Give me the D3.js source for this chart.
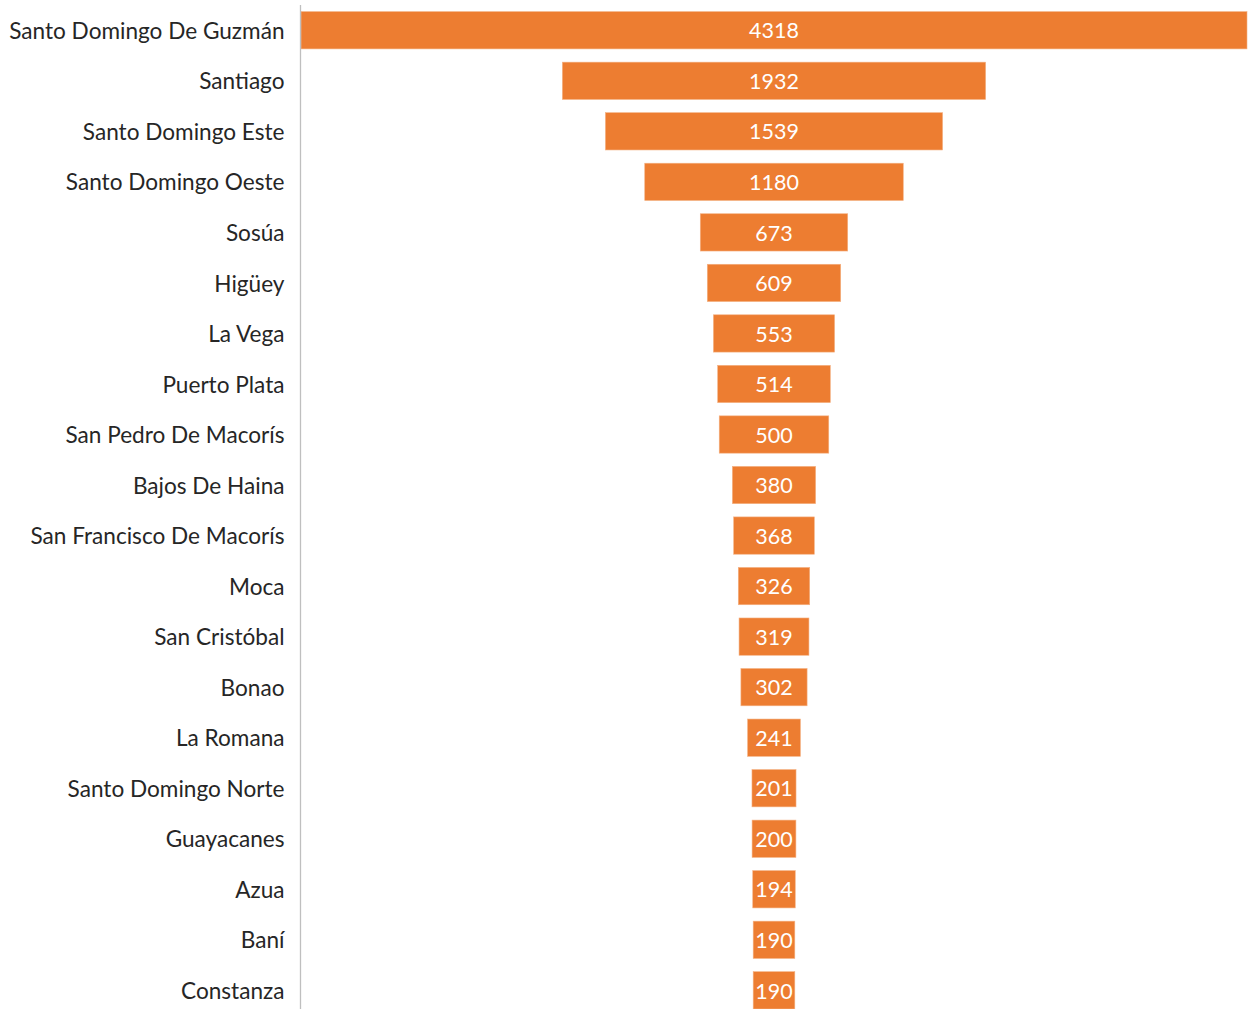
<!DOCTYPE html>
<html><head><meta charset="utf-8">
<script src="https://cdn.jsdelivr.net/npm/d3@7"></script>
<style>body{margin:0;background:#fff;overflow:hidden}svg{display:block}</style>
</head><body>
<script>
const categories = ["Santo Domingo De Guzmán","Santiago","Santo Domingo Este","Santo Domingo Oeste","Sosúa","Higüey","La Vega","Puerto Plata","San Pedro De Macorís","Bajos De Haina","San Francisco De Macorís","Moca","San Cristóbal","Bonao","La Romana","Santo Domingo Norte","Guayacanes","Azua","Baní","Constanza"];
const values = [4318,1932,1539,1180,673,609,553,514,500,380,368,326,319,302,241,201,200,194,190,190];

const W = 1249, H = 1009;
const svg = d3.select("body").append("svg").attr("width", W).attr("height", H);
const font = "Lato, 'Open Sans', sans-serif";

const axisX = 300.5;
const cx = (301 + 1247) / 2;
const halfW = d3.scaleLinear().domain([0, d3.max(values)]).range([0, (1247 - 301) / 2]);
const y = d3.scaleBand().domain(categories).range([5, 5 + 20 * 50.53]).paddingInner(0.262).paddingOuter(0.131);

const g = svg.append("g");
g.selectAll("rect").data(values).join("rect")
  .attr("x", (d) => cx - halfW(d))
  .attr("width", (d) => 2 * halfW(d))
  .attr("y", (d, i) => y(categories[i]))
  .attr("height", y.bandwidth())
  .attr("fill", "#ED7D31")
  .attr("stroke", "#F4B183").attr("stroke-width", 0.6);

g.selectAll("text.val").data(values).join("text").attr("class", "val")
  .attr("x", cx).attr("y", (d, i) => y(categories[i]) + y.bandwidth() / 2)
  .attr("dy", "0.38em").attr("text-anchor", "middle")
  .attr("fill", "#fff").style("font-family", font).style("font-size", "21.5px")
  .text((d) => d);

const axis = d3.axisLeft(y).tickSize(0).tickPadding(16);
const ax = svg.append("g").attr("transform", `translate(${axisX},0)`).call(axis);
ax.select(".domain").remove();
ax.append("line").attr("x1", 0).attr("x2", 0).attr("y1", 5).attr("y2", H).attr("stroke", "#BFBFBF").attr("stroke-width", 1.3);
ax.selectAll(".tick text").attr("fill", "#262626").style("font-family", font).style("font-size", "22.6px").attr("dy", "0.38em");
</script>
</body></html>
